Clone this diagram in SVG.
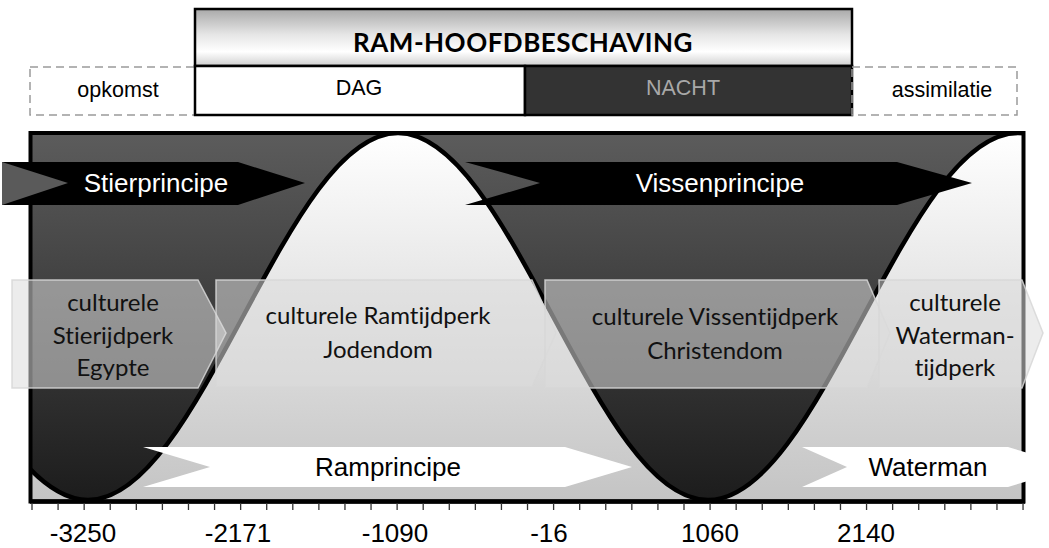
<svg xmlns="http://www.w3.org/2000/svg" width="1049" height="548" viewBox="0 0 1049 548">
<style>
.ar{font-family:"Liberation Sans",Arial,sans-serif;font-size:26px;text-anchor:middle}
.hd{font-family:"Liberation Sans",Arial,sans-serif;font-size:21.5px;text-anchor:middle}
.cu{font-family:Lato,"Open Sans",sans-serif;font-size:24px;text-anchor:middle;fill:#111;font-variant-ligatures:none;font-feature-settings:"liga" 0}
.ax{font-family:"Liberation Sans",Arial,sans-serif;font-size:26px;text-anchor:middle;fill:#000}
.box{fill:rgba(220,220,220,0.55);stroke:rgba(215,215,215,0.85);stroke-width:1.5}
.dash{fill:none;stroke:#9a9a9a;stroke-width:1.5;stroke-dasharray:8 5}
</style>
<defs>
<linearGradient id="titleGrad" x1="0" y1="0" x2="0" y2="1">
<stop offset="0" stop-color="#a9a9a9"/>
<stop offset="0.45" stop-color="#e6e6e6"/>
<stop offset="0.75" stop-color="#ffffff"/>
<stop offset="1" stop-color="#cfcfcf"/>
</linearGradient>
<linearGradient id="darkGrad" gradientUnits="userSpaceOnUse" x1="0" y1="133" x2="0" y2="501">
<stop offset="0" stop-color="#5c5c5c"/>
<stop offset="1" stop-color="#1c1c1c"/>
</linearGradient>
<linearGradient id="lightGrad" gradientUnits="userSpaceOnUse" x1="0" y1="133" x2="0" y2="501">
<stop offset="0" stop-color="#ffffff"/>
<stop offset="1" stop-color="#c4c4c4"/>
</linearGradient>
<clipPath id="frameClip"><rect x="30.5" y="133" width="993" height="368.5"/></clipPath>
</defs>

<g id="header">
<rect x="195" y="9" width="657" height="57" fill="url(#titleGrad)" stroke="#000" stroke-width="2.5"/>
<text x="523" y="52" font-family="Lato,'Open Sans',sans-serif" font-size="26" font-weight="bold" letter-spacing="0.5" text-anchor="middle" fill="#000">RAM-HOOFDBESCHAVING</text>
</g>
<g id="opkomst">
<rect class="dash" x="30" y="67" width="165" height="48"/>
<text class="hd" x="118" y="97">opkomst</text>
</g>
<g id="dag">
<rect x="195" y="66" width="330" height="49" fill="#fff" stroke="#000" stroke-width="2.5"/>
<text class="hd" x="359" y="95">DAG</text>
</g>
<g id="nacht">
<rect x="525" y="66" width="327" height="49" fill="#333" stroke="#000" stroke-width="2.5"/>
<text class="hd" x="683" y="95" fill="#a8a8a8">NACHT</text>
</g>
<g id="assimilatie">
<rect class="dash" x="852" y="67" width="165" height="48"/>
<text class="hd" x="942" y="97">assimilatie</text>
</g>

<g id="chart">
<rect x="30.5" y="133" width="993" height="368.5" fill="url(#darkGrad)"/>
<g clip-path="url(#frameClip)">
<path d="M-67,316.5 C-16.45,410.5 31.9,500 88,500 C144.1,500 192.45,410.5 243,316.5 C293.55,222.5 341.9,133 398,133 C454.1,133 502.45,222.5 553,316.5 C603.55,410.5 651.9,500 708,500 C764.1,500 812.45,410.5 863,316.5 C913.55,222.5 961.9,133 1018,133 C1074.1,133 1122.45,222.5 1173,316.5 L1173,600 L-67,600 Z" fill="url(#lightGrad)"/>
<path d="M-67,316.5 C-16.45,410.5 31.9,500 88,500 C144.1,500 192.45,410.5 243,316.5 C293.55,222.5 341.9,133 398,133 C454.1,133 502.45,222.5 553,316.5 C603.55,410.5 651.9,500 708,500 C764.1,500 812.45,410.5 863,316.5 C913.55,222.5 961.9,133 1018,133 C1074.1,133 1122.45,222.5 1173,316.5" fill="none" stroke="#000" stroke-width="4.5"/>
</g>
<rect x="30.5" y="133" width="993" height="368.5" fill="none" stroke="#000" stroke-width="4"/>
</g>

<g id="axis">
<line x1="30" y1="501.5" x2="1025" y2="501.5" stroke="#000" stroke-width="4.5"/>
<path d="M32,503v7M58.08,503v7M84.16,503v7M110.24,503v7M136.32,503v7M162.4,503v7M188.48,503v7M214.56,503v7M240.64,503v7M266.72,503v7M292.8,503v7M318.88,503v7M344.96,503v7M371.04,503v7M397.12,503v7M423.2,503v7M449.28,503v7M475.36,503v7M501.44,503v7M527.52,503v7M553.6,503v7M579.68,503v7M605.76,503v7M631.84,503v7M657.92,503v7M684,503v7M710.08,503v7M736.16,503v7M762.24,503v7M788.32,503v7M814.4,503v7M840.48,503v7M866.56,503v7M892.64,503v7M918.72,503v7M944.8,503v7M970.88,503v7M996.96,503v7M1023.04,503v7" stroke="#333" stroke-width="1.3" fill="none"/>
<text class="ax" x="83" y="542">-3250</text>
<text class="ax" x="238" y="542">-2171</text>
<text class="ax" x="395" y="542">-1090</text>
<text class="ax" x="549" y="542">-16</text>
<text class="ax" x="710" y="542">1060</text>
<text class="ax" x="866" y="542">2140</text>
</g>

<g id="stierprincipe">
<path d="M2,162 L238,162 L305,183 L238,205 L2,205 Z" fill="#000"/>
<path d="M2,162 L68,183 L2,205 Z" fill="#5a5a5a"/>
<text class="ar" x="156" y="192" fill="#fff">Stierprincipe</text>
</g>
<g id="vissenprincipe">
<path d="M465,162 L897,162 L972,183 L897,205 L465,205 L540,183 Z" fill="#000"/>
<text class="ar" x="720" y="192" fill="#fff">Vissenprincipe</text>
</g>
<g id="ramprincipe">
<path d="M143,447 L565,447 L632,467 L565,487 L143,487 L210,467 Z" fill="#fff"/>
<text class="ar" x="388" y="476" fill="#000">Ramprincipe</text>
</g>
<g id="waterman">
<path d="M802,447 L1008,447 L1075,467 L1008,487 L802,487 L847,467 Z" fill="#fff"/>
<text class="ar" x="928" y="476" fill="#000">Waterman</text>
</g>

<g id="stiertijdperk">
<path class="box" d="M12,280 L198,280 L226,333 L198,388 L12,388 Z"/>
<text class="cu" x="113" y="311">culturele</text>
<text class="cu" x="113" y="344">Stierijdperk</text>
<text class="cu" x="113" y="376">Egypte</text>
</g>
<g id="ramtijdperk">
<path class="box" d="M216,280 L532,280 L556,333 L532,387 L216,387 Z"/>
<text class="cu" x="378" y="324">culturele Ramtijdperk</text>
<text class="cu" x="378" y="358">Jodendom</text>
</g>
<g id="vissentijdperk">
<path class="box" d="M545,280 L867,280 L890,333 L867,388 L545,388 Z"/>
<text class="cu" x="715" y="325">culturele Vissentijdperk</text>
<text class="cu" x="715" y="359">Christendom</text>
</g>
<g id="watermantijdperk">
<path class="box" d="M879,280 L1022,280 L1043,333 L1022,388 L879,388 Z"/>
<text class="cu" x="955" y="311">culturele</text>
<text class="cu" x="955" y="344">Waterman-</text>
<text class="cu" x="955" y="376">tijdperk</text>
</g>
</svg>
